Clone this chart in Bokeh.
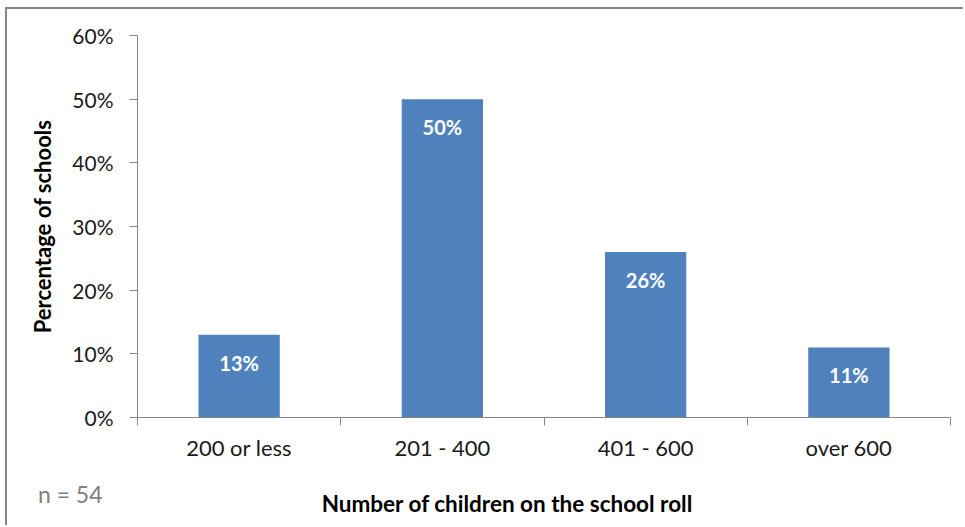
from bokeh.plotting import figure
from bokeh.models import Range1d, FixedTicker, Label, ColumnDataSource, CustomJSTickFormatter
from bokeh.core.properties import value
from bokeh.embed import file_html
from bokeh.resources import INLINE

# School roll size bands and share of schools in each (percent)
categories = ["200 or less", "201 - 400", "401 - 600", "over 600"]
percentages = [13, 50, 26, 11]
y_ticks = [0, 10, 20, 30, 40, 50, 60]
sample_note = "n = 54"
x_title = "Number of children on the school roll"

FONT = "Lato"
BAR_COLOR = "#4F81BD"
AXIS_COLOR = "#868686"
TEXT_COLOR = "#1a1a1a"

centers = [i + 0.5 for i in range(len(categories))]
bounds = list(range(len(categories) + 1))

source = ColumnDataSource(dict(
    x=centers,
    pct=percentages,
    label=[f"{v}%" for v in percentages],
))

p = figure(
    width=958, height=518,
    x_range=Range1d(0, len(categories)),
    y_range=Range1d(0, 60),
    output_backend="svg",
    toolbar_location=None,
    min_border_left=130, min_border_right=15,
    min_border_top=26, min_border_bottom=110,
)
p.styles = {
    "margin-left": "5px",
    "margin-top": "7px",
    "border-left": "2px solid #878787",
    "border-top": "2px solid #878787",
}
p.outline_line_color = None
p.grid.grid_line_color = None

p.vbar(x="x", top="pct", width=0.4, source=source, color=BAR_COLOR, line_color=None)

# value labels inside the top of each bar
p.text(x="x", y="pct", text="label", source=source, y_offset=28,
       text_align="center", text_baseline="middle",
       text_color="white", text_font=value(FONT), text_font_style="bold",
       text_font_size="20px")

# y axis
p.yaxis.ticker = FixedTicker(ticks=y_ticks, minor_ticks=[])
p.yaxis.formatter = CustomJSTickFormatter(code="return tick.toFixed(0) + '%';")
p.yaxis.axis_line_color = AXIS_COLOR
p.yaxis.major_tick_line_color = AXIS_COLOR
p.yaxis.major_tick_out = 8
p.yaxis.major_tick_in = 0
p.yaxis.minor_tick_line_color = None
p.yaxis.major_label_text_font = FONT
p.yaxis.major_label_text_font_size = "21px"
p.yaxis.major_label_text_color = TEXT_COLOR
p.yaxis.major_label_standoff = 16
p.yaxis.axis_label = "Percentage of schools"
p.yaxis.axis_label_text_font = FONT
p.yaxis.axis_label_text_font_style = "bold"
p.yaxis.axis_label_text_font_size = "22px"
p.yaxis.axis_label_text_color = "#000000"
p.yaxis.axis_label_standoff = 13

# x axis: category names at bar centres, tick marks on category boundaries
p.xaxis.ticker = FixedTicker(ticks=centers, minor_ticks=bounds)
p.xaxis.major_label_overrides = {c: name for c, name in zip(centers, categories)}
p.xaxis.axis_line_color = AXIS_COLOR
p.xaxis.major_tick_line_color = None
p.xaxis.major_tick_out = 0
p.xaxis.major_tick_in = 0
p.xaxis.minor_tick_line_color = AXIS_COLOR
p.xaxis.minor_tick_out = 8
p.xaxis.minor_tick_in = 0
p.xaxis.major_label_text_font = FONT
p.xaxis.major_label_text_font_size = "22px"
p.xaxis.major_label_text_color = TEXT_COLOR
p.xaxis.major_label_standoff = 8

# axis title and sample size note, in panels below the x axis
p.add_layout(Label(
    x=1.82, y=-13.5,
    text=x_title, text_align="center",
    text_font=FONT, text_font_style="bold", text_font_size="22.5px",
    text_color="#000000", text_baseline="middle",
), "below")
p.add_layout(Label(
    x=-0.49, y=-11.95,
    text=sample_note, text_font=FONT, text_font_size="23px",
    text_color="#7f7f7f", text_baseline="middle",
), "below")

open("out.html", "w").write(file_html(p, INLINE))
